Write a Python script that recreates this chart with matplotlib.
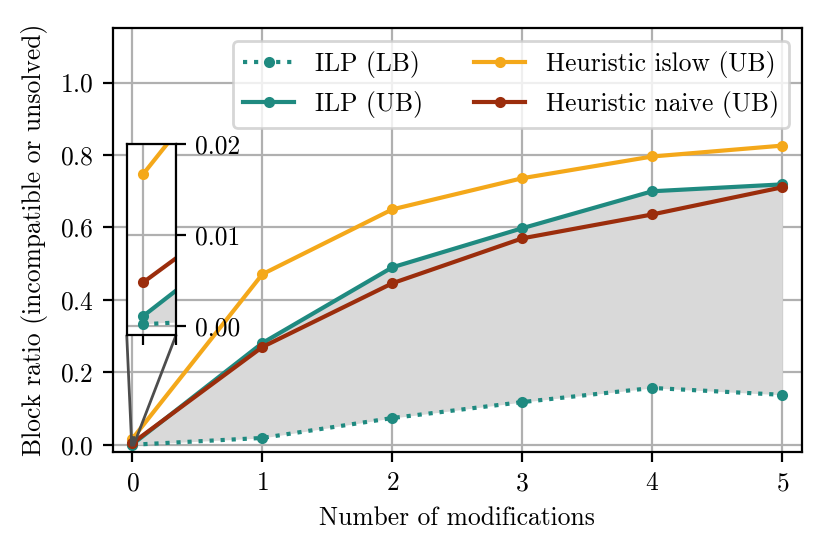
import matplotlib
matplotlib.use("Agg")
from matplotlib import pyplot as plt

plt.rcParams['font.family'] = 'serif'
plt.rcParams['font.serif'] = ['cmr10']
plt.rcParams['mathtext.fontset'] = 'cm'
plt.rcParams['axes.formatter.use_mathtext'] = True
plt.rcParams['font.size'] = 9.2

# data
mods = [0, 1, 2, 3, 4, 5]
ilp_lb = [0.0002, 0.019, 0.074, 0.118, 0.157, 0.138]
ilp_ub = [0.0011, 0.281, 0.490, 0.598, 0.700, 0.719]
heur_islow = [0.0167, 0.471, 0.650, 0.736, 0.796, 0.826]
heur_naive = [0.0048, 0.270, 0.446, 0.570, 0.636, 0.711]

teal = '#1f8a80'
orange = '#f4a81a'
red = '#9b2d0c'

fig = plt.figure(figsize=(4.15, 2.77), dpi=200)
ax = fig.add_axes([0.136, 0.184, 0.830, 0.765])
axins = fig.add_axes([0.1527, 0.395, 0.0594, 0.345])


def draw(a):
    a.fill_between(mods, ilp_lb, ilp_ub, color='#d9d9d9', lw=0)
    a.plot(mods, ilp_lb, ':', color=teal, lw=1.5, marker='o', ms=3, label='ILP (LB)')
    a.plot(mods, ilp_ub, '-', color=teal, lw=1.5, marker='o', ms=3, label='ILP (UB)')
    a.plot(mods, heur_islow, '-', color=orange, lw=1.5, marker='o', ms=3, label='Heuristic islow (UB)')
    a.plot(mods, heur_naive, '-', color=red, lw=1.5, marker='o', ms=3, label='Heuristic naive (UB)')
    a.grid(True, color='#b0b0b0', lw=0.8)
    a.set_axisbelow(True)


draw(ax)
ax.set_xlim(-0.15, 5.15)
ax.set_ylim(-0.02, 1.15)
ax.set_xticks(mods)
ax.set_yticks([0.0, 0.2, 0.4, 0.6, 0.8, 1.0])
ax.set_xlabel('Number of modifications')
ax.set_ylabel('Block ratio (incompatible or unsolved)')
ax.legend(loc='upper right', ncol=2)

draw(axins)
axins.set_xlim(-0.005, 0.01)
axins.set_ylim(-0.001, 0.02)
axins.set_xticks([0, 0.01])
axins.set_xticklabels([])
axins.set_yticks([0.0, 0.01, 0.02])
axins.set_yticklabels(['0.00', '0.01', '0.02'])
axins.yaxis.tick_right()
ax.indicate_inset_zoom(axins, edgecolor='0.3', alpha=1)

fig.savefig('out.png')
